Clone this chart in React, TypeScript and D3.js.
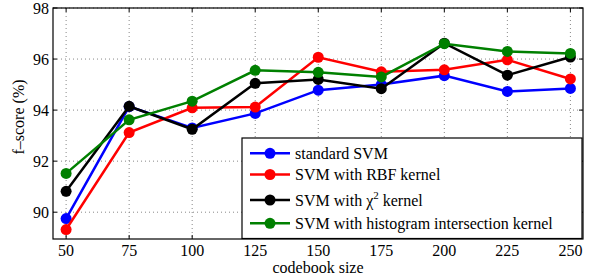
import React from "react";
import * as d3 from "d3";

const codebookSizes = [50, 75, 100, 125, 150, 175, 200, 225, 250];
const standardSVM = [89.75, 94.14, 93.3, 93.87, 94.78, 95.0, 95.35, 94.73, 94.85];
const rbfSVM = [89.32, 93.12, 94.09, 94.12, 96.07, 95.5, 95.58, 95.97, 95.22];
const chi2SVM = [90.82, 94.15, 93.25, 95.05, 95.2, 94.84, 96.62, 95.37, 96.08];
const hikSVM = [91.52, 93.62, 94.35, 95.56, 95.48, 95.3, 96.6, 96.3, 96.22];
const xTicks = [50, 75, 100, 125, 150, 175, 200, 225, 250];
const yTicks = [90, 92, 94, 96, 98];

const seriesList = [
  { name: "standard SVM", values: standardSVM, color: "#0000ff" },
  { name: "SVM with RBF kernel", values: rbfSVM, color: "#ff0000" },
  { name: "SVM with chi2 kernel", values: chi2SVM, color: "#000000" },
  { name: "SVM with histogram intersection kernel", values: hikSVM, color: "#008000" },
];

const W = 601;
const H = 277;
const L = 53;
const R = 583;
const T = 8;
const B = 239;
const FONT = "Liberation Serif, DejaVu Serif, serif";
const ts: React.CSSProperties = { fontFamily: FONT, fontSize: "16px" };

export default function App() {
  const x = d3.scaleLinear().domain([44.8, 255]).range([L, R]);
  const y = d3.scaleLinear().domain([88.95, 98]).range([B, T]);
  const line = d3
    .line<number>()
    .x((_, i) => x(codebookSizes[i]))
    .y((v) => y(v));

  const legRows = [153.3, 174.5, 200, 223.3];
  const legX0 = 242;
  const legY0 = 138;
  const legX1 = 582;
  const legY1 = 238.5;

  return (
    <svg
      width={W}
      height={H}
      style={{ position: "absolute", left: 0, top: 0, background: "#fff" }}
    >
      <rect x={0} y={0} width={W} height={H} fill="#fff" />
      {xTicks.map((t) => (
        <line
          key={"gx" + t}
          x1={x(t)}
          x2={x(t)}
          y1={T}
          y2={B}
          stroke="#888"
          strokeWidth={1}
          strokeDasharray="1,3"
        />
      ))}
      {yTicks.map((t) => (
        <line
          key={"gy" + t}
          x1={L}
          x2={R}
          y1={y(t)}
          y2={y(t)}
          stroke="#888"
          strokeWidth={1}
          strokeDasharray="1,3"
        />
      ))}
      {xTicks.map((t) => (
        <g key={"tx" + t}>
          <line x1={x(t)} x2={x(t)} y1={B} y2={B - 4} stroke="#000" />
          <line x1={x(t)} x2={x(t)} y1={T} y2={T + 4} stroke="#000" />
          <text x={x(t)} y={256} style={ts} textAnchor="middle" fill="#000">
            {t}
          </text>
        </g>
      ))}
      {yTicks.map((t) => (
        <g key={"ty" + t}>
          <line x1={L} x2={L + 4} y1={y(t)} y2={y(t)} stroke="#000" />
          <line x1={R} x2={R - 4} y1={y(t)} y2={y(t)} stroke="#000" />
          <text x={49} y={y(t) + 5.5} style={ts} textAnchor="end" fill="#000">
            {t}
          </text>
        </g>
      ))}
      {seriesList.map((s) => (
        <g key={s.name}>
          <path d={line(s.values) || ""} fill="none" stroke={s.color} strokeWidth={2.5} />
          {s.values.map((v, i) => (
            <circle key={i} cx={x(codebookSizes[i])} cy={y(v)} r={5.5} fill={s.color} />
          ))}
        </g>
      ))}
      <rect x={L} y={T} width={R - L} height={B - T} fill="none" stroke="#000" strokeWidth={1.2} />
      <text x={(L + R) / 2} y={273} style={ts} textAnchor="middle" fill="#000">
        codebook size
      </text>
      <text
        transform={`translate(24, ${117}) rotate(-90)`}
        style={ts}
        textAnchor="middle"
        fill="#000"
      >
        f–score (%)
      </text>
      <rect
        x={legX0}
        y={legY0}
        width={legX1 - legX0}
        height={legY1 - legY0}
        fill="#fff"
        stroke="#000"
        strokeWidth={1.2}
      />
      {seriesList.map((s, i) => (
        <g key={"leg" + i}>
          <line x1={250} x2={290} y1={legRows[i]} y2={legRows[i]} stroke={s.color} strokeWidth={2.5} />
          <circle cx={270} cy={legRows[i]} r={5.5} fill={s.color} />
          <text x={295} y={legRows[i] + 5.5} style={ts} fill="#000">
            {i === 2 ? (
              <>
                SVM with χ
                <tspan style={{ fontSize: "11px" }} dy={-7}>
                  2
                </tspan>
                <tspan dy={7}> kernel</tspan>
              </>
            ) : (
              s.name
            )}
          </text>
        </g>
      ))}
    </svg>
  );
}
